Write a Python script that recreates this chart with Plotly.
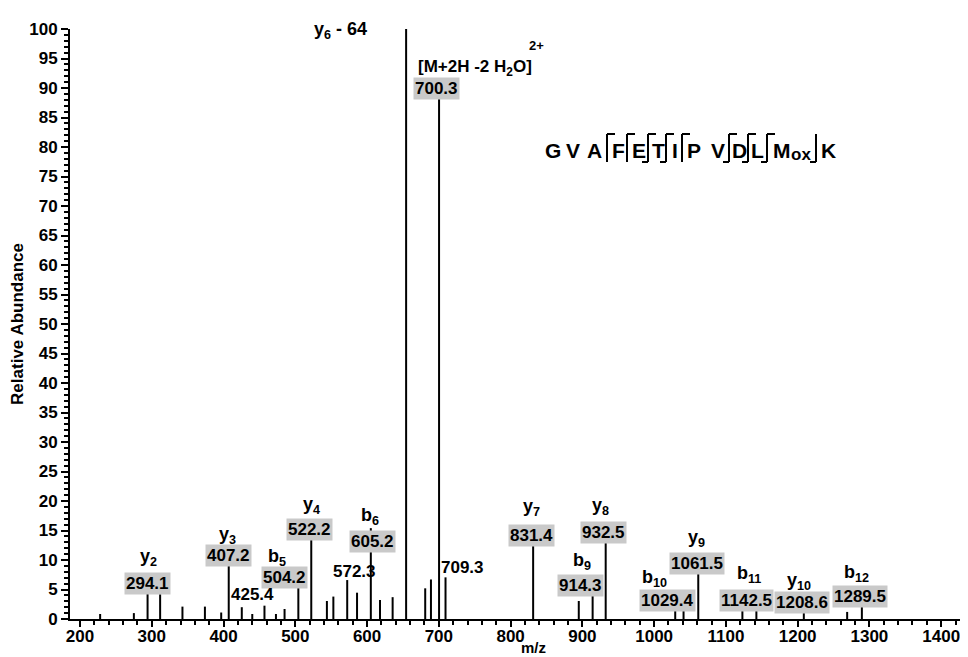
import plotly.graph_objects as go

# ---------------- data ----------------
mz = [228, 275, 294.1, 311.6, 342.7, 374, 396.7, 407.2, 425.4, 440, 457, 473, 485,
      504.2, 522.2, 544, 553, 572.3, 586, 605.2, 618, 635.6, 654.4, 681, 689,
      700.3, 709.3, 831.4, 895, 914.3, 932.5, 1029.4, 1041, 1061.5, 1123, 1142.5,
      1208.6, 1269, 1289.5]
intensity = [0.85, 1.0, 4.5, 4.2, 2.1, 2.1, 1.1, 9.15, 2.0, 0.85, 2.26, 0.85, 1.7,
             5.65, 13.56, 3.05, 3.8, 6.6, 4.46, 15.4, 3.2, 3.7, 100, 5.2, 6.7,
             88.8, 7.06, 12.7, 3.05, 4.2, 13.1, 1.5, 1.5, 7.7, 1.5, 1.5,
             1.2, 1.2, 2.1]

boxed_labels = ["294.1", "407.2", "504.2", "522.2", "605.2", "654.4", "700.3",
                "831.4", "914.3", "932.5", "1029.4", "1061.5", "1142.5", "1208.6", "1289.5"]
plain_labels = ["425.4", "572.3", "709.3"]
ion_labels = ["y<sub>2</sub>", "y<sub>3</sub>", "b<sub>5</sub>", "y<sub>4</sub>", "b<sub>6</sub>",
              "y<sub>6</sub> - 64", "y<sub>7</sub>", "y<sub>8</sub>", "b<sub>9</sub>",
              "b<sub>10</sub>", "y<sub>9</sub>", "b<sub>11</sub>", "y<sub>10</sub>", "b<sub>12</sub>"]
sequence = ["G", "V", "A", "F", "E", "T", "I", "P", "V", "D", "L", "M", "ox", "K"]
# cleavage markers: (b-ion top arm, y-ion bottom arm)
cleavage_marks = [(True, False), (True, False), (True, True), (True, True), (True, False),
                  (True, True), (True, True), (True, True), (False, True)]

# ---------------- layout positions ----------------
boxed_pos = [(293.3, 6.1), (406.2, 10.7), (485.6, 7.1), (520.4, 15.25), (606.9, 13.2),
             (652.8, 101.2), (697.4, 90.0), (829.4, 14.2), (897, 5.76), (929.7, 14.6),
             (1018.9, 3.2), (1059.3, 9.4), (1128.5, 3.2), (1205.4, 2.8), (1286.9, 3.8)]
plain_pos = [(441, 4.07), (581.8, 8.1), (732.3, 8.8)]
ion_pos = [(294.7, 10.5), (404.8, 14.2), (474.2, 10.5), (523.2, 19.3), (604, 17.3),
           (563.6, 99.8), (829.4, 18.9), (924.6, 19.0), (899, 9.7),
           (1000, 6.9), (1059.3, 13.7), (1132, 7.5), (1201.9, 6.3), (1282.3, 7.7)]
seq_px = [553, 573, 594, 618, 639, 658, 675, 694, 718, 739, 757, 782, 801, 828]
mark_px = [607, 627, 648, 666, 682, 729, 748, 767, 816]

FONT = "Liberation Sans, Arial, sans-serif"
OFF = 8                      # page body margin
PAGE_W, PAGE_H = 968, 657
PL, PR, PT, PB = 70, 967, 29, 619   # plot area in page pixels
W, H = PAGE_W - OFF, PAGE_H - OFF
L, T = PL - OFF, PT - OFF
R, B = W - (PR - OFF), H - (PB - OFF)
PW, PH = PR - PL, PB - PT


def px2paper(px, py):
    return (px - PL) / PW, (PB - py) / PH


xs, ys = [], []
for m, h in zip(mz, intensity):
    xs += [m, m, None]
    ys += [0, h, None]

fig = go.Figure(go.Scatter(x=xs, y=ys, mode="lines",
                           line=dict(color="black", width=2), hoverinfo="skip"))

ann = []
base = dict(showarrow=False, xanchor="center", yanchor="middle")
for t, (x, y) in zip(boxed_labels, boxed_pos):
    ann.append(dict(base, x=x, y=y, xref="x", yref="y", text="<b>%s</b>" % t,
                    font=dict(family=FONT, size=17, color="black"),
                    bgcolor="#c9c9c9", borderpad=1))
for t, (x, y) in zip(plain_labels, plain_pos):
    ann.append(dict(base, x=x, y=y, xref="x", yref="y", text="<b>%s</b>" % t,
                    font=dict(family=FONT, size=17, color="black")))
for t, (x, y) in zip(ion_labels, ion_pos):
    ann.append(dict(base, x=x, y=y, xref="x", yref="y", text="<b>%s</b>" % t,
                    font=dict(family=FONT, size=18, color="black")))

# precursor label
px_, py_ = px2paper(475, 68)
ann.append(dict(base, x=px_, y=py_, xref="paper", yref="paper",
                text="<b>[M+2H -2 H<sub>2</sub>O]</b>",
                font=dict(family=FONT, size=17, color="black")))
px_, py_ = px2paper(536, 45)
ann.append(dict(base, x=px_, y=py_, xref="paper", yref="paper", text="<b>2+</b>",
                font=dict(family=FONT, size=13, color="black")))

# x-axis title
px_, py_ = px2paper(533, 647)
ann.append(dict(base, x=px_, y=py_, xref="paper", yref="paper", text="<b>m/z</b>",
                font=dict(family=FONT, size=15, color="black"), borderpad=0))

# sequence letters
for s, p in zip(sequence, seq_px):
    if s == "ox":
        xp, yp = px2paper(p, 155)
        size = 17
    else:
        xp, yp = px2paper(p, 150)
        size = 21
    ann.append(dict(base, x=xp, y=yp, xref="paper", yref="paper", text="<b>%s</b>" % s,
                    font=dict(family=FONT, size=size, color="black")))

shapes = []
top, bot, arm_t, arm_b = 134, 162, 8, 6
for (b, yion), p in zip(cleavage_marks, mark_px):
    x0, y0 = px2paper(p, top)
    x1, y1 = px2paper(p, bot)
    shapes.append(dict(type="line", xref="paper", yref="paper", x0=x0, y0=y0, x1=x1, y1=y1,
                       line=dict(color="black", width=2)))
    if b:
        xa, _ = px2paper(p + arm_t, top)
        shapes.append(dict(type="line", xref="paper", yref="paper", x0=x0, y0=y0, x1=xa, y1=y0,
                           line=dict(color="black", width=2)))
    if yion:
        xa, _ = px2paper(p - arm_b, bot)
        shapes.append(dict(type="line", xref="paper", yref="paper", x0=xa, y0=y1, x1=x1, y1=y1,
                           line=dict(color="black", width=2)))

fig.update_layout(
    width=W, height=H, margin=dict(l=L, r=R, t=T, b=B, autoexpand=False),
    paper_bgcolor="white", plot_bgcolor="white", showlegend=False,
    annotations=ann, shapes=shapes,
    xaxis=dict(range=[186, 1436], tickmode="linear", tick0=200, dtick=100,
               ticks="outside", ticklen=6, tickwidth=2, tickcolor="black",
               ticklabelstandoff=-5,
               showline=True, linewidth=2, linecolor="black", showgrid=False, zeroline=False,
               tickfont=dict(family=FONT, size=17, color="black", weight="bold"),
               minor=dict(tick0=200, dtick=20, ticks="outside", ticklen=4, tickwidth=1.5,
                          tickcolor="black", showgrid=False)),
    yaxis=dict(range=[0, 100], tickmode="linear", tick0=0, dtick=5,
               ticks="outside", ticklen=7, tickwidth=2, tickcolor="black",
               showline=True, linewidth=2, linecolor="black", showgrid=False, zeroline=False,
               tickfont=dict(family=FONT, size=17, color="black", weight="bold"),
               minor=dict(tick0=0, dtick=1, ticks="outside", ticklen=4, tickwidth=1.5,
                          tickcolor="black", showgrid=False),
               title=dict(text="<b>Relative Abundance</b>", standoff=5,
                          font=dict(family=FONT, size=17, color="black"))),
)

fig.write_html("out.html")
